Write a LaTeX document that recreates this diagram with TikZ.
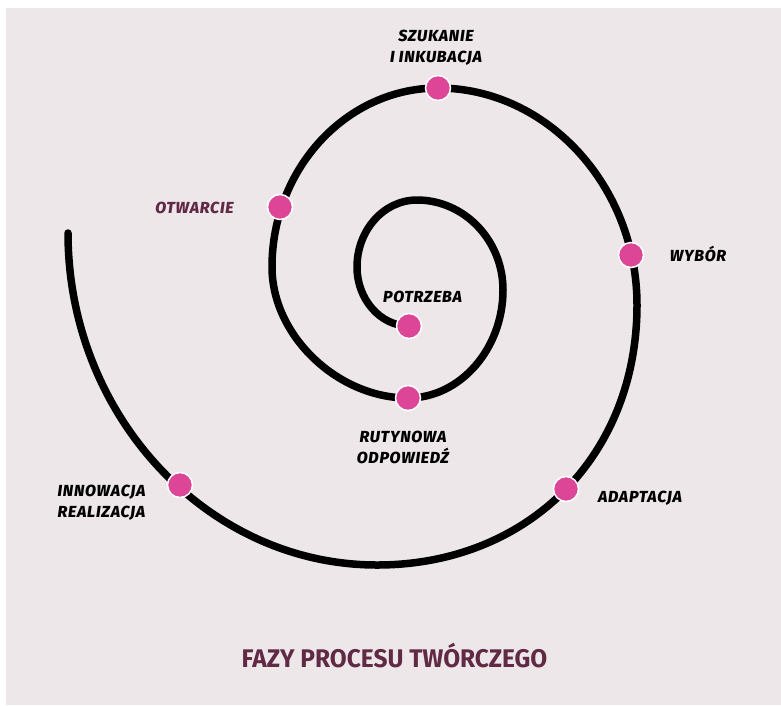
\documentclass[tikz,border=0pt]{standalone}
\usepackage{fontspec}
\setmainfont{Fira Sans}
\newfontfamily\labelfont{Fira Sans}[BoldItalicFont={Fira Sans ExtraBold Italic},LetterSpace=4.5]
\newfontfamily\titlefont{Fira Sans}
\definecolor{bgpink}{RGB}{237,231,233}
\definecolor{dotpink}{RGB}{221,70,150}
\definecolor{plum}{RGB}{96,42,69}

\begin{document}
\begin{tikzpicture}[x=1pt,y=-1pt,
    phase/.style={circle,fill=dotpink,draw=white,line width=1.5pt,minimum size=25pt,inner sep=0pt},
    lbl/.style={font=\labelfont\bfseries\itshape\fontsize{16}{21}\selectfont,align=center,inner sep=0pt}]
  \useasboundingbox (0,0) rectangle (781,705);
  \fill[bgpink] (6,8) rectangle (781,705);

  % the spiral, from the inside out, one quarter turn per segment
  \draw[line width=7.5pt,line cap=round]
    (409,326) .. controls (380,326) and (357,299) .. (357,267)
    .. controls (357,230) and (384,200) .. (417,200)
    .. controls (464,200) and (503,240) .. (503,290)
    .. controls (503,349) and (460,398) .. (408,398)
    .. controls (338,398) and (272,336) .. (272,267)
    .. controls (272,168) and (347,88) .. (438,88)
    .. controls (547,88) and (637,186) .. (637,305)
    .. controls (637,456) and (528,565) .. (377,565)
    .. controls (207,565) and (68,415) .. (68,233);

  \node[phase] (potrzeba) at (409,326) {};
  \node[phase] (rutynowa) at (408,398) {};
  \node[phase] (otwarcie) at (280,207) {};
  \node[phase] (szukanie) at (438,88) {};
  \node[phase] (wybor) at (631,255) {};
  \node[phase] (adaptacja) at (566,489) {};
  \node[phase] (innowacja) at (180,485) {};

  \node[lbl,anchor=base] (lpotrzeba) at (422.5,302) {POTRZEBA};
  \node[lbl] (lrutynowa) at (403,447) {RUTYNOWA\\ODPOWIEDŹ};
  \node[lbl,anchor=base,text=plum] (lotwarcie) at (194.5,213) {OTWARCIE};
  \node[lbl] (lszukanie) at (436,48) {SZUKANIE\\I INKUBACJA};
  \node[lbl,anchor=base] (lwybor) at (698,261) {WYBÓR};
  \node[lbl,anchor=base] (ladaptacja) at (640,502) {ADAPTACJA};
  \node[lbl] (linnowacja) at (101.5,502.5) {INNOWACJA\\REALIZACJA};

  \node[anchor=base,inner sep=0pt,text=plum,font=\titlefont\bfseries\fontsize{25.5}{30}\selectfont] (title) at (394.5,667) {\scalebox{0.96}[1]{FAZY PROCESU TWÓRCZEGO}};
\end{tikzpicture}
\end{document}
